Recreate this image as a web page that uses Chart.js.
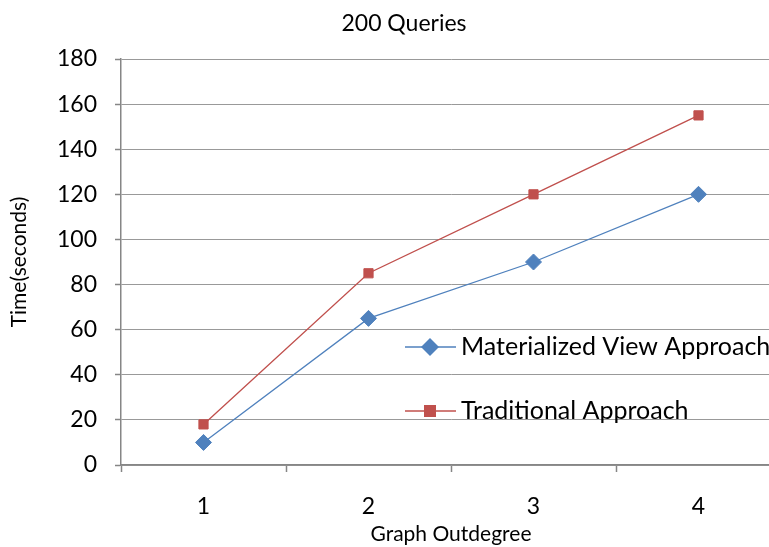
<!DOCTYPE html>
<html>
<head>
<meta charset="utf-8">
<script src="https://cdn.jsdelivr.net/npm/chart.js@4/dist/chart.umd.min.js"></script>
<style>
html, body { margin: 0; padding: 0; overflow: hidden; background: #fff; }
#wrap { position: relative; width: 790px; height: 547px; }
</style>
</head>
<body>
<div id="wrap"><canvas id="canvas"></canvas></div>
<script>
var outdegree = ["1", "2", "3", "4"];
var materializedData = [10, 65, 90, 120];
var traditionalData = [18, 85, 120, 155];
var seriesNames = ["Materialized View Approach", "Traditional Approach"];
var chartTitle = "200 Queries";

var fontName = "Lato, 'Open Sans', sans-serif";
var axisGray = "#868686";

/* title sits a bit right of the canvas centre in the original */
var topTitle = {
    id: 'topTitle',
    afterDraw: function (chart) {
        var c = chart.ctx;
        c.save();
        c.fillStyle = '#000';
        c.font = "23px " + fontName;
        c.textAlign = 'center';
        c.textBaseline = 'middle';
        c.fillText(chartTitle, 404, 24);
        c.restore();
    }
};

/* legend drawn inside the plot, like the original */
var insideLegend = {
    id: 'insideLegend',
    afterDatasetsDraw: function (chart) {
        var c = chart.ctx;
        var rows = [347, 411];
        chart.data.datasets.forEach(function (ds, i) {
            var y = rows[i];
            c.save();
            c.strokeStyle = ds.borderColor;
            c.lineWidth = 1.3;
            c.beginPath();
            c.moveTo(405, y);
            c.lineTo(456, y);
            c.stroke();
            c.fillStyle = ds.pointBackgroundColor;
            c.beginPath();
            if (ds.pointStyle === 'rectRot') {
                c.moveTo(430, y - 9);
                c.lineTo(439, y);
                c.lineTo(430, y + 9);
                c.lineTo(421, y);
            } else {
                c.rect(424, y - 6, 12, 12);
            }
            c.closePath();
            c.fill();
            c.fillStyle = '#000';
            c.font = "25px " + fontName;
            c.textAlign = 'left';
            c.textBaseline = 'middle';
            c.fillText(ds.label, 461, y);
            c.restore();
        });
    }
};

var ctx = document.getElementById("canvas").getContext("2d");

var canvas = new Chart(ctx, {
    type: 'line',
    data: {
        labels: outdegree,
        datasets: [
            {
                label: seriesNames[0],
                data: materializedData,
                borderColor: "#4F81BD",
                backgroundColor: "#4F81BD",
                pointBackgroundColor: "#4F81BD",
                pointBorderColor: "#4F81BD",
                pointStyle: 'rectRot',
                pointRadius: 8,
                pointBorderWidth: 1,
                borderWidth: 1.3,
                tension: 0
            },
            {
                label: seriesNames[1],
                data: traditionalData,
                borderColor: "#C0504D",
                backgroundColor: "#C0504D",
                pointBackgroundColor: "#C0504D",
                pointBorderColor: "#C0504D",
                pointStyle: 'rect',
                pointRadius: 6.5,
                pointBorderWidth: 1,
                borderWidth: 1.3,
                tension: 0
            }]
    },
    options: {
        responsive: true,
        maintainAspectRatio: false,
        animation: false,
        layout: { padding: { left: 0, right: 1, top: 59, bottom: 0 } },
        plugins: {
            legend: { display: false },
            tooltip: { enabled: false },
            title: { display: false }
        },
        scales: {
            x: {
                offset: true,
                grid: {
                    offset: true,
                    drawOnChartArea: false,
                    drawTicks: true,
                    tickLength: 7,
                    tickColor: axisGray,
                    tickWidth: 1.5
                },
                border: { color: axisGray, width: 1.5 },
                ticks: {
                    color: '#000',
                    padding: 21,
                    font: { family: fontName, size: 23 }
                },
                title: {
                    display: true,
                    text: 'Graph Outdegree',
                    color: '#000',
                    font: { family: fontName, size: 21 },
                    padding: { top: 0, bottom: 0 }
                },
                afterFit: function (scale) { scale.height = 82; }
            },
            y: {
                min: 0,
                max: 180,
                grid: {
                    color: '#999999',
                    lineWidth: 1,
                    borderDash: [1, 1],
                    drawTicks: true,
                    tickLength: 6,
                    tickColor: axisGray,
                    tickWidth: 1.5,
                    tickBorderDash: []
                },
                border: { color: axisGray, width: 1.5 },
                ticks: {
                    stepSize: 20,
                    color: '#000',
                    padding: 18,
                    font: { family: fontName, size: 23 }
                },
                title: {
                    display: true,
                    text: 'Time(seconds)',
                    color: '#000',
                    font: { family: fontName, size: 21 },
                    padding: { top: 7, bottom: 0 }
                },
                afterFit: function (scale) { scale.width = 121; }
            }
        }
    },
    plugins: [insideLegend, topTitle]
});
</script>
</body>
</html>
